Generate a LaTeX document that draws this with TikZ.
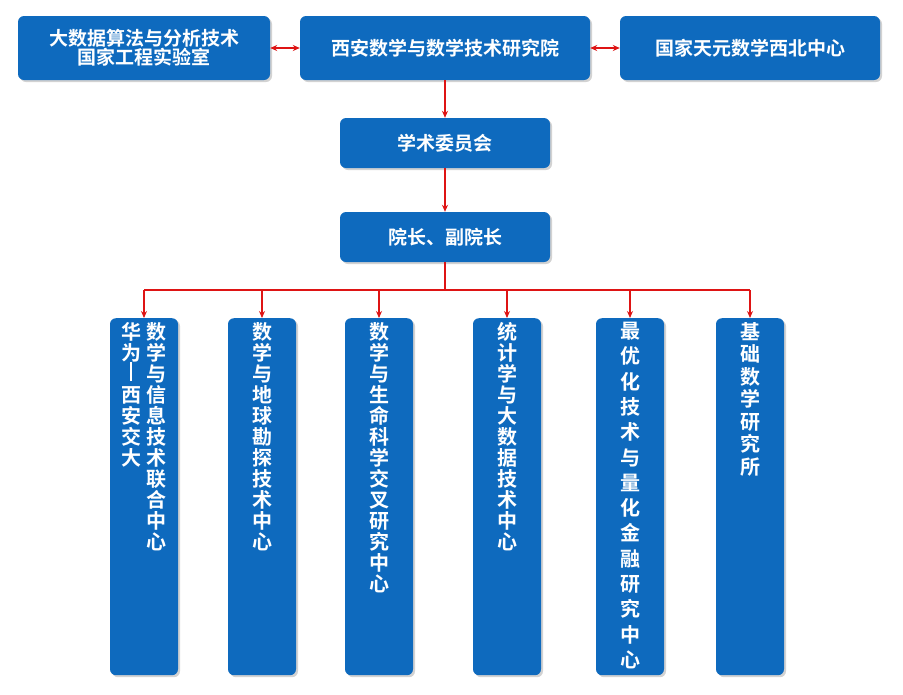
\documentclass[tikz,border=0pt]{standalone}
\usepackage{fontspec}
\newfontfamily\cjk{Noto Sans CJK SC}[BoldFont={* Bold}]
\usetikzlibrary{arrows.meta,shadows}
\definecolor{boxblue}{RGB}{14,106,190}
\definecolor{linered}{RGB}{222,20,20}
\tikzset{
  box/.style={draw=none,fill=boxblue,rounded corners=6pt,drop shadow={shadow xshift=2pt,shadow yshift=-2pt,opacity=0.35},
    text=white,font=\cjk\bfseries\fontsize{19}{22}\selectfont,align=center},
  conn/.style={draw=linered,line width=1.1pt},
  arr/.style={conn,-{Stealth[length=7pt,width=6pt]}},
  darr/.style={conn,{Stealth[length=7pt,width=6pt]}-{Stealth[length=7pt,width=6pt]}},
  vt/.style={text=white,font=\cjk\bfseries\fontsize{20}{#1}\selectfont,align=center,anchor=north,inner sep=0pt},
}
\begin{document}
\begin{tikzpicture}[x=1pt,y=-1pt]
\useasboundingbox (0,0) rectangle (903,694);
\fill[white] (0,0) rectangle (903,694);
% top row
\node[box,minimum width=252pt,minimum height=64pt] (lab) at (144,48) {大数据算法与分析技术\\[-3pt]国家工程实验室};
\node[box,minimum width=290pt,minimum height=64pt] (inst) at (445,48) {西安数学与数学技术研究院};
\node[box,minimum width=260pt,minimum height=64pt] (tian) at (750,48) {国家天元数学西北中心};
\node[box,minimum width=210pt,minimum height=50pt] (xs) at (445,143) {学术委员会};
\node[box,minimum width=210pt,minimum height=50pt] (yz) at (445,237) {院长、副院长};
% columns
\foreach \n/\x in {c1/144,c2/262,c3/379,c4/507,c5/630,c6/750}{
  \node[box,minimum width=68pt,minimum height=357pt,anchor=north] (\n) at (\x,318) {};
}
\node[vt=21] (t1a) at (156,322) {数\\学\\与\\信\\息\\技\\术\\联\\合\\中\\心};
\node[vt=21] (t1b) at (131,322) {华\\为\\\rule{1.6pt}{19pt}\\西\\安\\交\\大};
\node[vt=21] (t2) at (262,322) {数\\学\\与\\地\\球\\勘\\探\\技\\术\\中\\心};
\node[vt=21] (t3) at (379,322) {数\\学\\与\\生\\命\\科\\学\\交\\叉\\研\\究\\中\\心};
\node[vt=21] (t4) at (507,322) {统\\计\\学\\与\\大\\数\\据\\技\\术\\中\\心};
\node[vt=25.3] (t5) at (630,322) {最\\优\\化\\技\\术\\与\\量\\化\\金\\融\\研\\究\\中\\心};
\node[vt=22.5] (t6) at (750,322) {基\\础\\数\\学\\研\\究\\所};
% connectors
\draw[darr] (lab.east) -- (inst.west);
\draw[darr] (inst.east) -- (tian.west);
\draw[arr] (inst.south) -- (xs.north);
\draw[arr] (xs.south) -- (yz.north);
\coordinate (bus) at (445,290);
\draw[conn] (yz.south) -- (bus);
\draw[conn] (c1.north |- bus) -- (c6.north |- bus);
\foreach \n in {c1,c2,c3,c4,c5,c6}{
  \draw[arr] (\n.north |- bus) -- (\n.north);
}
\end{tikzpicture}
\end{document}
